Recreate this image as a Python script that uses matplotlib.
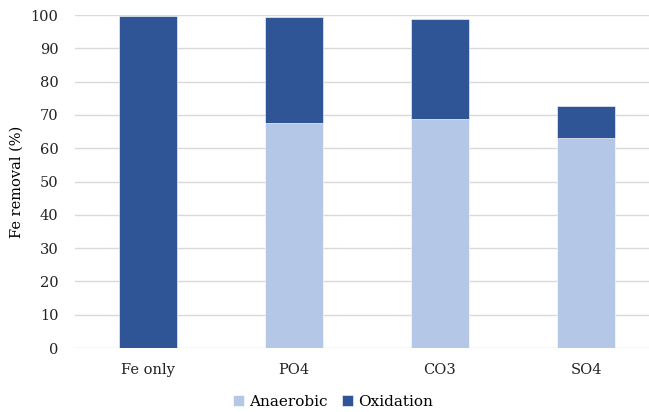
import matplotlib
matplotlib.use("Agg")
import matplotlib.pyplot as plt
import numpy as np

categories = ["Fe only", "PO4", "CO3", "SO4"]
anaerobic = [0.0, 67.5, 68.9, 63.0]
total = [99.6, 99.3, 98.8, 72.7]
oxidation = [t - a for t, a in zip(total, anaerobic)]

light = "#B4C7E7"
dark = "#2F5597"

plt.rcParams["font.family"] = ["DejaVu Serif"]
plt.rcParams["font.size"] = 10.5

W, H = 649, 412
fig = plt.figure(figsize=(W / 100, H / 100), dpi=100)
# axes in pixel coordinates: left 75, right 659, top 15, bottom 348
ax = fig.add_axes([75 / W, (H - 348) / H, (659 - 75) / W, (348 - 15) / H])

x = np.arange(len(categories))
ax.bar(x, anaerobic, width=0.4, color=light, label="Anaerobic",
       edgecolor="white", linewidth=0.4, zorder=3)
ax.bar(x, oxidation, width=0.4, bottom=anaerobic, color=dark, label="Oxidation",
       edgecolor="white", linewidth=0.4, zorder=3)

ax.set_xlim(-0.5, 3.5)
ax.set_ylim(0, 100)
ax.set_yticks(np.arange(0, 101, 10))
ax.set_xticks(x)
ax.set_xticklabels(categories)
ax.yaxis.grid(True, color="#D9D9D9", linewidth=1.0, zorder=0)
ax.set_axisbelow(True)
for s in ax.spines.values():
    s.set_visible(False)
ax.tick_params(axis="both", length=0, colors="#222222")
ax.tick_params(axis="y", pad=12)
ax.tick_params(axis="x", pad=11)
ax.set_ylabel("Fe removal (%)", labelpad=5)

fig.legend(loc="lower center", bbox_to_anchor=(0.513, -0.025), ncol=2, frameon=False,
           handlelength=0.7, handleheight=0.7, handletextpad=0.3, columnspacing=1.0,
           fontsize=11)

fig.savefig("out.png", dpi=100)
